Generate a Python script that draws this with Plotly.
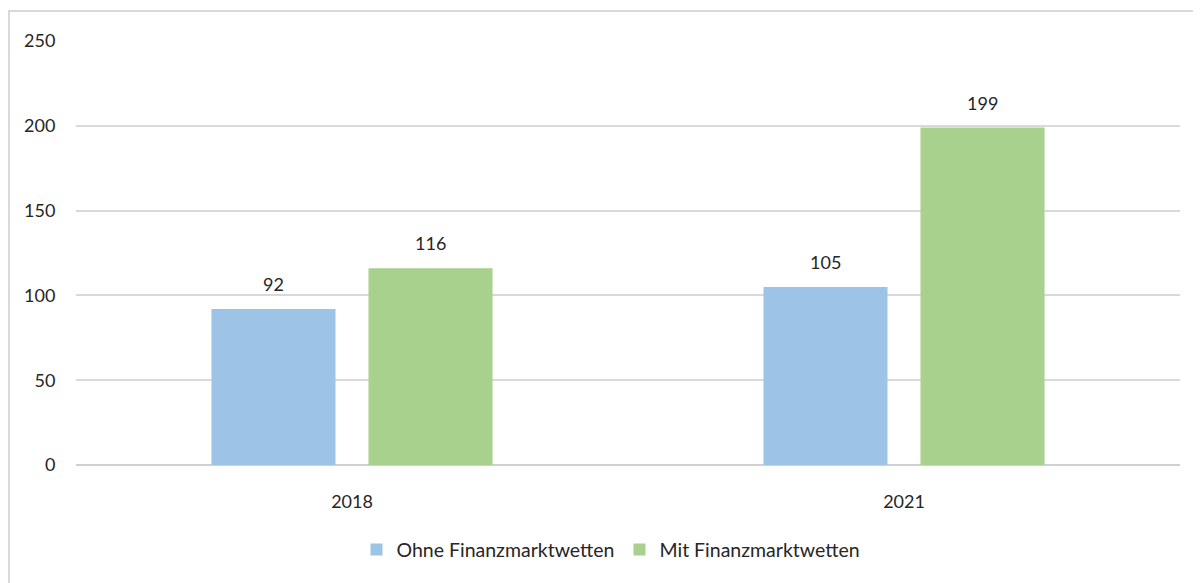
import plotly.graph_objects as go

categories = ["2018", "2021"]
ohne = [92, 105]
mit = [116, 199]
series_names = ["Ohne Finanzmarktwetten", "Mit Finanzmarktwetten"]
y_ticks = [0, 50, 100, 150, 200, 250]

FONT = "Lato, 'Open Sans', sans-serif"
TXT = "#262626"
FS = 18

fig = go.Figure()
fig.add_trace(go.Bar(x=categories, y=ohne, name=series_names[0],
                     marker=dict(color="#9DC3E6", line=dict(width=0))))
fig.add_trace(go.Bar(x=categories, y=mit, name=series_names[1],
                     marker=dict(color="#A9D18E", line=dict(width=0))))

for vals, shift in ((ohne, -78.5), (mit, 78.5)):
    for i, v in enumerate(vals):
        fig.add_annotation(x=i, y=v, text=str(v), showarrow=False,
                           xshift=shift, yshift=25, yanchor="middle",
                           font=dict(family=FONT, size=FS, color=TXT))

fig.add_shape(type="rect", xref="paper", yref="paper",
              x0=(1 - 68) / 1104, x1=1.2, y0=-0.6, y1=1 + (33 - 3) / 424,
              line=dict(color="#d9d9d9", width=2), layer="below")

fig.update_layout(
    width=1193, height=575,
    margin=dict(l=68, r=21, t=33, b=118, autoexpand=False),
    paper_bgcolor="white", plot_bgcolor="white",
    barmode="group", bargap=0.431, bargroupgap=0.21,
    font=dict(family=FONT, size=FS, color=TXT),
    showlegend=True,
    legend=dict(orientation="h", x=(611 - 8 - 68) / 1104, xanchor="center",
                y=-0.2, yanchor="middle",
                font=dict(family=FONT, size=19.5, color=TXT), itemwidth=30,
                traceorder="normal"),
    xaxis=dict(type="category", range=[-0.5, 1.5], showgrid=False, showline=False,
               ticks="outside", ticklen=20, tickcolor="rgba(0,0,0,0)", automargin=False,
               tickfont=dict(family=FONT, size=FS, color=TXT)),
    yaxis=dict(range=[0, 250], tickvals=y_ticks, showgrid=True, gridcolor="#d9d9d9",
               gridwidth=1.5, zeroline=True, zerolinecolor="#d0d0d0", zerolinewidth=1.5,
               showline=False, ticks="outside", ticklen=16, tickcolor="rgba(0,0,0,0)",
               automargin=False,
               tickfont=dict(family=FONT, size=FS, color=TXT)),
)

fig.write_html("out.html")
